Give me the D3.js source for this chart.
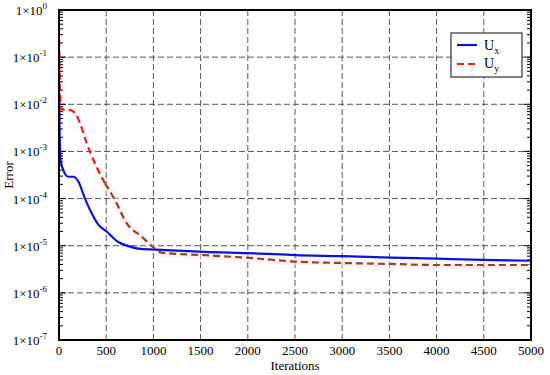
<!DOCTYPE html>
<html>
<head>
<meta charset="utf-8">
<script src="https://cdn.jsdelivr.net/npm/d3@7"></script>
<style>
  body { margin: 0; background: #fff; }
</style>
</head>
<body>
<svg width="550" height="375" font-family="'Liberation Serif', 'Times New Roman', Times, 'DejaVu Serif', serif"></svg>
<script>
const svg = d3.select('svg')

// data
const uxIter = [0, 5, 12, 20, 46, 99, 152, 205, 275, 328, 417, 505, 628, 735, 840, 1017, 1547, 2076, 2500, 3000, 3506, 4000, 4492, 5000]
const uxErr = [3e-2, 4e-3, 1e-3, 6e-4, 4e-4, 2.9e-4, 2.9e-4, 2.3e-4, 1.0e-4, 5.8e-5, 2.8e-5, 2.0e-5, 1.2e-5, 9.8e-6, 8.7e-6, 8.3e-6, 7.4e-6, 6.9e-6, 6.3e-6, 6.0e-6, 5.6e-6, 5.3e-6, 5.0e-6, 4.8e-6]

const uyIter = [0, 5, 12, 20, 64, 120, 170, 222, 293, 381, 487, 593, 717, 876, 1017, 1088, 1547, 2076, 2500, 3000, 3506, 4000, 4500, 5000]
const uyErr = [4e-1, 1e-1, 2e-2, 8e-3, 7.6e-3, 7.5e-3, 6.5e-3, 4.0e-3, 1.5e-3, 5.6e-4, 2.1e-4, 9.3e-5, 3.0e-5, 1.55e-5, 8.7e-6, 7.1e-6, 6.3e-6, 5.4e-6, 4.6e-6, 4.3e-6, 4.1e-6, 3.9e-6, 3.9e-6, 3.9e-6]

const xTicks = [0, 500, 1000, 1500, 2000, 2500, 3000, 3500, 4000, 4500, 5000]
const yExponents = [0, -1, -2, -3, -4, -5, -6, -7]

const mLeft = 59, mRight = 531, mTop = 10, mBottom = 340

const x = d3.scaleLinear().domain([0, 5000]).range([mLeft, mRight])
const y = d3.scaleLog().domain([1e-7, 1]).range([mBottom, mTop])

const g = svg.append('g')

// grid
g.selectAll('.gx').data(xTicks.slice(1, -1)).enter().append('line')
  .attr('x1', d => x(d)).attr('x2', d => x(d))
  .attr('y1', mTop).attr('y2', mBottom)
  .attr('stroke', '#555').attr('stroke-width', 1).attr('stroke-dasharray', '6,3')

g.selectAll('.gy').data(yExponents.slice(1, -1)).enter().append('line')
  .attr('x1', mLeft).attr('x2', mRight)
  .attr('y1', d => y(Math.pow(10, d))).attr('y2', d => y(Math.pow(10, d)))
  .attr('stroke', '#555').attr('stroke-width', 1).attr('stroke-dasharray', '6,3')

// minor / major ticks left and right, inside
const minor = []
for (let e = -7; e < 0; e++) {
  for (let m = 2; m <= 9; m++) minor.push(m * Math.pow(10, e))
}
const tickG = g.append('g')
tickG.selectAll('.ml').data(minor).enter().append('line')
  .attr('x1', mLeft).attr('x2', mLeft + 4)
  .attr('y1', d => y(d)).attr('y2', d => y(d))
  .attr('stroke', '#000')
tickG.selectAll('.mr').data(minor).enter().append('line')
  .attr('x1', mRight).attr('x2', mRight - 4)
  .attr('y1', d => y(d)).attr('y2', d => y(d))
  .attr('stroke', '#000')
tickG.selectAll('.Ml').data(yExponents).enter().append('line')
  .attr('x1', mLeft).attr('x2', mLeft + 7)
  .attr('y1', d => y(Math.pow(10, d))).attr('y2', d => y(Math.pow(10, d)))
  .attr('stroke', '#000')
tickG.selectAll('.Mr').data(yExponents).enter().append('line')
  .attr('x1', mRight).attr('x2', mRight - 7)
  .attr('y1', d => y(Math.pow(10, d))).attr('y2', d => y(Math.pow(10, d)))
  .attr('stroke', '#000')

// lines
const line = d3.line().x(d => x(d[0])).y(d => y(d[1])).curve(d3.curveMonotoneX)
const uy = uyIter.map((d, i) => [d, uyErr[i]])
const ux = uxIter.map((d, i) => [d, uxErr[i]])
const split = 11
const uyRed = uy.slice(0, split)
const uyBrown = uy.slice(split - 1)

// faint pink band under lower part of Uy
g.append('path').datum(uyBrown)
  .attr('d', line)
  .attr('fill', 'none')
  .attr('stroke', '#ffe4f2')
  .attr('stroke-opacity', 0.5)
  .attr('stroke-width', 8)

g.append('path').datum(ux)
  .attr('d', line)
  .attr('fill', 'none')
  .attr('stroke', '#0a14d8')
  .attr('stroke-width', 2.2)

g.append('path').datum(uyRed)
  .attr('d', line)
  .attr('fill', 'none')
  .attr('stroke', '#ee1a1a')
  .attr('stroke-width', 2.2)
  .attr('stroke-dasharray', '7,4')

g.append('path').datum(uyBrown)
  .attr('d', line)
  .attr('fill', 'none')
  .attr('stroke', '#8a4a1e')
  .attr('stroke-width', 2.2)
  .attr('stroke-dasharray', '7,4')

// frame
g.append('rect')
  .attr('x', mLeft).attr('y', mTop)
  .attr('width', mRight - mLeft).attr('height', mBottom - mTop)
  .attr('fill', 'none').attr('stroke', '#000').attr('stroke-width', 2)

// x tick labels
g.selectAll('.xl').data(xTicks).enter().append('text')
  .attr('x', d => x(d)).attr('y', mBottom + 15)
  .attr('text-anchor', 'middle')
  .attr('font-size', 13)
  .text(d => d)

// y tick labels
const yl = g.selectAll('.yl').data(yExponents).enter().append('text')
  .attr('x', mLeft - 12).attr('y', d => y(Math.pow(10, d)) + 5)
  .attr('text-anchor', 'end')
  .attr('font-size', 13)
yl.append('tspan').text('1×10')
yl.append('tspan').attr('dy', -6).attr('font-size', 9).text(d => d)

// axis titles
svg.append('text')
  .attr('x', (mLeft + mRight) / 2).attr('y', 370)
  .attr('text-anchor', 'middle').attr('font-size', 13)
  .text('Iterations')
svg.append('text')
  .attr('transform', `translate(13, ${(mTop + mBottom) / 2}) rotate(-90)`)
  .attr('text-anchor', 'middle').attr('font-size', 13)
  .text('Error')

// legend
const lg = svg.append('g').attr('transform', 'translate(451, 33)')
lg.append('rect').attr('width', 71).attr('height', 44)
  .attr('fill', '#fff').attr('stroke', '#333').attr('stroke-width', 1.2)
lg.append('line').attr('x1', 6).attr('x2', 26).attr('y1', 12).attr('y2', 12)
  .attr('stroke', '#0a14d8').attr('stroke-width', 2.2)
lg.append('line').attr('x1', 6).attr('x2', 26).attr('y1', 31).attr('y2', 31)
  .attr('stroke', '#ee1a1a').attr('stroke-width', 2.2).attr('stroke-dasharray', '7,4')
const t1 = lg.append('text').attr('x', 33).attr('y', 17).attr('font-size', 14)
t1.append('tspan').text('U')
t1.append('tspan').attr('dy', 4).attr('font-size', 10).text('x')
const t2 = lg.append('text').attr('x', 33).attr('y', 35).attr('font-size', 14)
t2.append('tspan').text('U')
t2.append('tspan').attr('dy', 4).attr('font-size', 10).text('y')
</script>
</body>
</html>
